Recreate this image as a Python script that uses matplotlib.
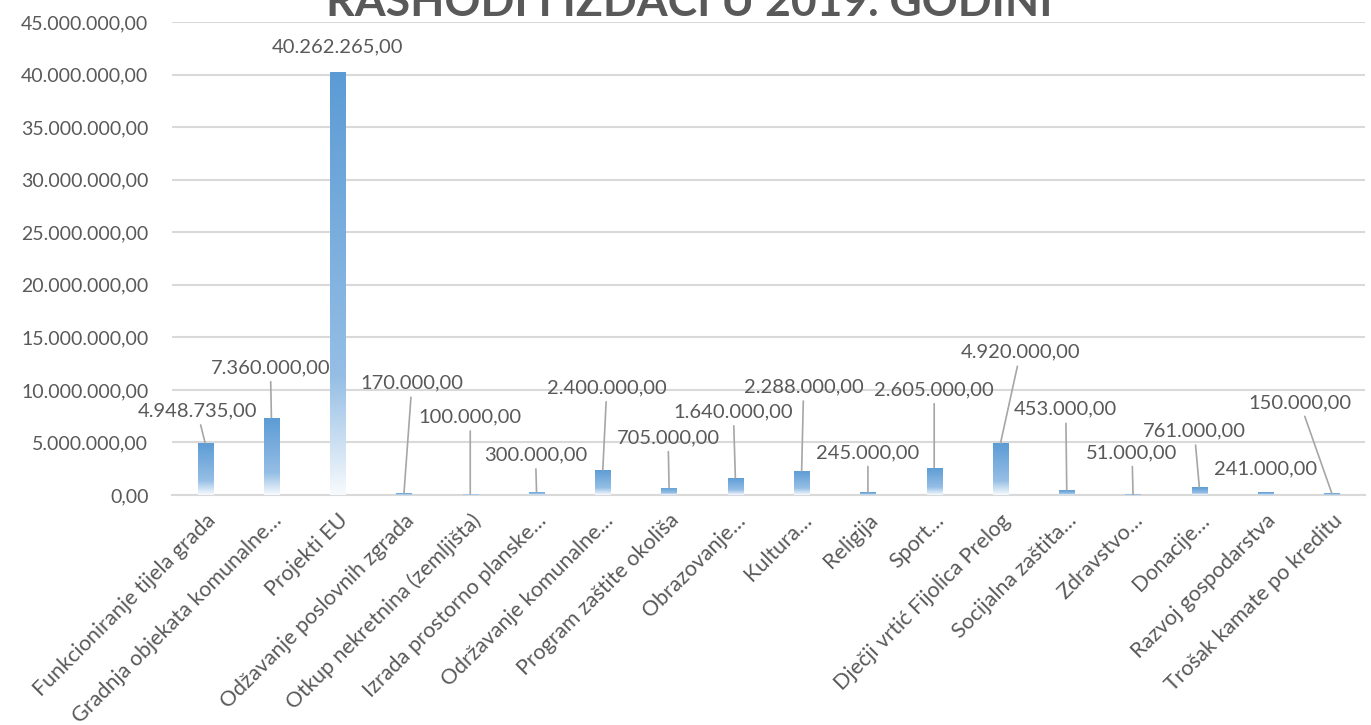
import numpy as np
import matplotlib
matplotlib.use("Agg")
import matplotlib.pyplot as plt
from matplotlib.colors import LinearSegmentedColormap
from matplotlib.ticker import FuncFormatter

plt.rcParams['font.family'] = ['Lato', 'DejaVu Sans']

title = "RASHODI I IZDACI U 2019. GODINI"

categories = [
    "Funkcioniranje tijela grada",
    "Gradnja objekata komunalne…",
    "Projekti EU",
    "Odžavanje poslovnih zgrada",
    "Otkup nekretnina (zemljišta)",
    "Izrada prostorno planske…",
    "Održavanje komunalne…",
    "Program zaštite okoliša",
    "Obrazovanje…",
    "Kultura…",
    "Religija",
    "Sport…",
    "Dječji vrtić Fijolica Prelog",
    "Socijalna zaštita…",
    "Zdravstvo…",
    "Donacije…",
    "Razvoj gospodarstva",
    "Trošak kamate po kreditu",
]

values = [4948735, 7360000, 40262265, 170000, 100000, 300000, 2400000, 705000,
          1640000, 2288000, 245000, 2605000, 4920000, 453000, 51000, 761000,
          241000, 150000]

# label offsets from bar top, pixels (dx, dy up)
label_offsets = [(-8, 32), (-1, 50), (0, 25), (8, 110), (0, 77), (-1, 37),
                 (4, 82), (-1, 50), (-2, 66), (2, 84), (0, 40), (0, 78),
                 (20, 91), (-1, 81), (-1, 42), (-5, 56), (0, 24), (-32, 91)]

text_col = "#595959"
grid_col = "#d9d9d9"


def fmt(v, pos=None):
    s = f"{v:,.2f}"
    return s.replace(",", "X").replace(".", ",").replace("X", ".")


fig = plt.figure(figsize=(13.71, 7.25), dpi=100)
ax = fig.add_axes([172 / 1371, 1 - 495 / 725, (1365 - 172) / 1371, (495 - 22) / 725])

x = np.arange(len(categories))
bars = ax.bar(x, values, width=0.23, color="none", zorder=3)

cmap = LinearSegmentedColormap.from_list(
    "grad", [(0, "#5b9bd5"), (0.72, "#95bee5"), (1.0, "#f7fafd")])
grad = np.linspace(0, 1, 256).reshape(-1, 1)
for rect in bars:
    x0, w, h = rect.get_x(), rect.get_width(), rect.get_height()
    im = ax.imshow(grad, cmap=cmap, aspect="auto", extent=[x0, x0 + w, 0, h],
                   origin="upper", zorder=3, interpolation="bilinear")
    im.set_clip_path(rect)

ax.set_xlim(-0.5, len(categories) - 0.5)
ax.set_ylim(0, 45e6)
ax.set_yticks(np.arange(0, 45e6 + 1, 5e6))
ax.yaxis.set_major_formatter(FuncFormatter(fmt))
ax.grid(axis="y", color=grid_col, lw=1.5, zorder=0)
ax.set_axisbelow(True)
for s in ["top", "right", "left"]:
    ax.spines[s].set_visible(False)
ax.spines["bottom"].set_color(grid_col)
ax.spines["bottom"].set_linewidth(1.5)
ax.tick_params(axis="both", length=0, colors=text_col)
ax.tick_params(axis="y", labelsize=14, pad=17)
ax.tick_params(axis="x", labelsize=15.5, pad=11)
ax.set_xticks(x)
ax.set_xticklabels(categories, rotation=45, ha="right", rotation_mode="anchor")

for i, v in enumerate(values):
    dx, dy = label_offsets[i]
    arrow = None
    if dy > 30:
        arrow = dict(arrowstyle="-", color="#a6a6a6", lw=1.2, shrinkA=2, shrinkB=0)
    ax.annotate(fmt(v), xy=(x[i], v), xytext=(dx, dy), textcoords="offset pixels",
                ha="center", va="center", fontsize=14.5, color=text_col,
                arrowprops=arrow, zorder=4)

fig.text(0.503, 1 - 16 / 725, title, ha="center", va="baseline",
         fontsize=32, fontweight="bold", color=text_col)

fig.savefig("out.png", dpi=100)
